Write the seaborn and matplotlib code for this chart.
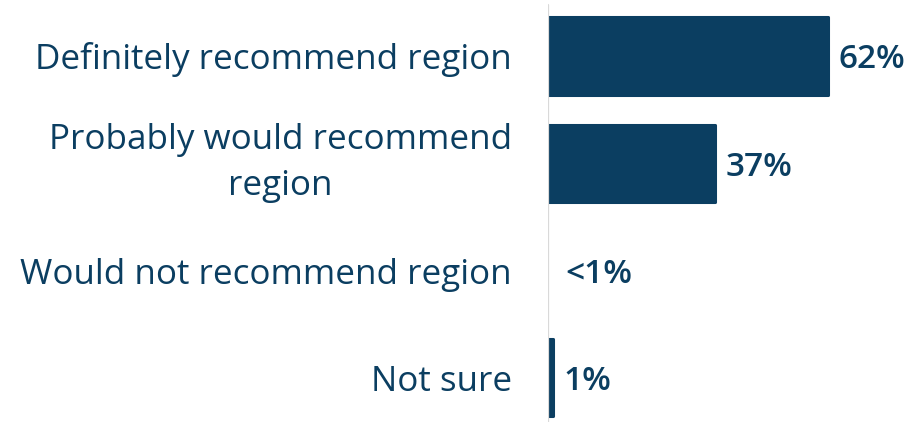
import matplotlib
matplotlib.use("Agg")
import matplotlib.pyplot as plt
import seaborn as sns
import pandas as pd

categories = ["Definitely recommend region", "Probably would recommend\nregion",
              "Would not recommend region", "Not sure"]
values = [62, 37, 0.3, 1]
value_labels = ["62%", "37%", "<1%", "1%"]

navy = "#0b3e61"
sns.set_theme(style="white")
plt.rcParams["font.family"] = ["Open Sans", "DejaVu Sans"]

df = pd.DataFrame({"category": categories, "value": values})

W, H = 917, 422
fig = plt.figure(figsize=(W / 100, H / 100), dpi=100)
ax_left, ax_right = 548, 917
ax_top, ax_bottom = 2.3, 431.5
ax = fig.add_axes([ax_left / W, (H - ax_bottom) / H,
                   (ax_right - ax_left) / W, (ax_bottom - ax_top) / H])

sns.barplot(data=df, y="category", x="value", orient="h", color=navy,
            width=0.72, saturation=1, ax=ax)

for patch, v in zip(ax.patches, values):
    if v >= 1:
        patch.set_edgecolor(navy)
        patch.set_linewidth(2.2)
        patch.set_joinstyle("round")
    else:
        patch.set_alpha(0)

ax.set_xlim(0, (ax_right - ax_left) / 4.51)
ax.set_ylim(3.5, -0.5)
ax.set_xlabel("")
ax.set_ylabel("")
ax.set_xticks([])
for s in ax.spines.values():
    s.set_visible(False)
ax.axvline(0, ymin=0, ymax=0.994, color="#d9d9d9", lw=1.6, zorder=5)

ax.tick_params(axis="y", length=0, pad=26)
for lab in ax.get_yticklabels():
    lab.set_fontsize(25.2)
    lab.set_fontweight("normal")
    lab.set_color(navy)
    lab.set_multialignment("center")
    lab.set_linespacing(1.48)
    if "\n" in lab.get_text():
        lab.set_verticalalignment("center")

for i, (v, t) in enumerate(zip(values, value_labels)):
    ax.annotate(t, xy=(max(v, 1), i), xytext=(11 if v >= 1 else 13, 0),
                textcoords="offset pixels", ha="left", va="center_baseline",
                fontsize=24, fontweight="semibold", color=navy)

fig.savefig("out.png", dpi=100)
